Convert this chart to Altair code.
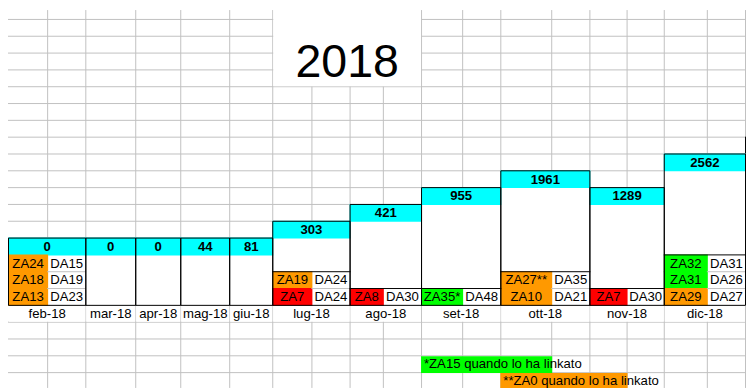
import altair as alt
import pandas as pd

# ---------------- data read from the sheet ----------------
months = ["feb-18", "mar-18", "apr-18", "mag-18", "giu-18", "lug-18",
          "ago-18", "set-18", "ott-18", "nov-18", "dic-18"]
totals = [0, 0, 0, 44, 81, 303, 421, 955, 1961, 1289, 2562]
box_rows = [4, 4, 4, 4, 4, 5, 6, 7, 8, 7, 9]   # height of each hand-drawn bar, in sheet rows

za_month = ["feb-18", "feb-18", "feb-18", "lug-18", "lug-18", "ago-18", "set-18",
            "ott-18", "ott-18", "nov-18", "dic-18", "dic-18", "dic-18"]
za_label = ["ZA24", "ZA18", "ZA13", "ZA19", "ZA7", "ZA8", "ZA35*",
            "ZA27**", "ZA10", "ZA7", "ZA32", "ZA31", "ZA29"]
za_state = ["arancio", "arancio", "arancio", "arancio", "rosso", "rosso", "verde",
            "arancio", "arancio", "rosso", "verde", "verde", "arancio"]
da_label = ["DA15", "DA19", "DA23", "DA24", "DA24", "DA30", "DA48",
            "DA35", "DA21", "DA30", "DA31", "DA26", "DA27"]

title = "2018"
notes = ["*ZA15 quando lo ha linkato", "**ZA0 quando lo ha linkato"]
note_state = ["verde", "arancio"]

state_domain = ["arancio", "rosso", "verde"]
state_range = ["#FF9900", "#FF0000", "#00FF00"]

# ---------------- sheet geometry (layout only) ----------------
COL_W = [40, 39, 51, 46, 50, 44, 40, 39, 34, 39, 42, 39, 52, 39, 38, 38, 44, 39]
ROW_H = 17
edges = [0]
for w in COL_W:
    edges.append(edges[-1] + w)
month_cols = [[0, 1], [2], [3], [4], [5], [6, 7], [8, 9], [10, 11], [12, 13], [14, 15], [16, 17]]
LABEL_ROW = 18
BASE = LABEL_ROW * ROW_H            # bottom of the bars
TITLE_COLS, TITLE_ROWS = (6, 10), 5
NOTE_POS = [(21, 10, 13), (22, 12, 15)]   # row, first col, end col (fill)
GRID = "#C0C0C0"
FONT = "Liberation Sans"
VIEW_W, VIEW_H = 746, 382
X_MAX, Y_MIN, Y_MAX = 754, 8, 390

# ---------------- build tables ----------------
grid = []
for k in range(1, 23):
    y = k * ROW_H + 0.5
    grid.append(dict(x=0, x2=X_MAX, y=y, y2=y))
for e in edges[1:]:
    grid.append(dict(x=e + 0.5, x2=e + 0.5, y=Y_MIN, y2=Y_MAX))
grid = pd.DataFrame(grid)

covers, cyan, boxes, mlabels, tots = [], [], [], [], []
for i, m in enumerate(months):
    cols = month_cols[i]
    x0, x1 = edges[cols[0]], edges[cols[-1] + 1]
    top = BASE - box_rows[i] * ROW_H
    covers.append(dict(x=x0, x2=x1 + 1, y=top, y2=BASE + 1))
    covers.append(dict(x=x0 + 1, x2=x1, y=BASE + 1, y2=BASE + ROW_H))
    cyan.append(dict(x=x0, x2=x1 + 1, y=top, y2=top + ROW_H + 1))
    boxes.append(dict(x=x0 + 0.5, x2=x1 + 0.5, y=top + 0.5, y2=BASE + 0.5))
    mlabels.append(dict(x=(x0 + x1 + 1) / 2, y=BASE + ROW_H - 3.6, text=m))
    tots.append(dict(x=(x0 + x1 + 1) / 2, y=top + ROW_H - 3.6, text=str(totals[i])))
covers.append(dict(x=edges[TITLE_COLS[0]] + 1, x2=edges[TITLE_COLS[1]],
                   y=0, y2=TITLE_ROWS * ROW_H))

cells, das, zas, grey_lines, black_lines = [], [], [], [], []
for i, m in enumerate(months):
    idx = [j for j, mm in enumerate(za_month) if mm == m]
    if not idx:
        continue
    cols = month_cols[i]
    zx0, zx1 = edges[cols[0]], edges[cols[0] + 1]
    dx0, dx1 = edges[cols[-1]], edges[cols[-1] + 1]
    n = len(idx)
    block_top = BASE - n * ROW_H
    for r, j in enumerate(idx):
        yt = block_top + r * ROW_H
        cells.append(dict(x=zx0, x2=zx1 + 1, y=yt, y2=yt + ROW_H + 1, state=za_state[j]))
        zas.append(dict(x=(zx0 + zx1 + 1) / 2, y=yt + ROW_H - 3.6, text=za_label[j]))
        das.append(dict(x=(dx0 + dx1 + 1) / 2, y=yt + ROW_H - 3.6, text=da_label[j]))
        if r > 0:
            grey_lines.append(dict(x=dx0, x2=dx1, y=yt + 0.5, y2=yt + 0.5))
    top = BASE - box_rows[i] * ROW_H
    if block_top > top + ROW_H:
        black_lines.append(dict(x=edges[cols[0]], x2=dx1 + 1, y=block_top + 0.5, y2=block_top + 0.5))
    if m == months[-1]:
        black_lines.append(dict(x=dx1 + 0.5, x2=dx1 + 0.5, y=top - ROW_H, y2=top))

note_text = []
for (r, c0, c1), t, s in zip(NOTE_POS, notes, note_state):
    yt = r * ROW_H
    cells.append(dict(x=edges[c0], x2=edges[c1] + 1, y=yt + 1, y2=yt + ROW_H + 1, state=s))
    note_text.append(dict(x=edges[c0] + 3, y=yt + ROW_H - 3.8, text=t))

title_df = pd.DataFrame([dict(x=(edges[TITLE_COLS[0]] + edges[TITLE_COLS[1]] + 1) / 2,
                              y=75.3, text=title)])

# ---------------- chart ----------------
xs = alt.Scale(domain=[0, X_MAX], nice=False, zero=False)
ys = alt.Scale(domain=[Y_MIN, Y_MAX], reverse=True, nice=False, zero=False)


def seg(df, mark):
    return alt.Chart(pd.DataFrame(df)).mark_rule(**mark).encode(
        x=alt.X("x:Q", scale=xs, axis=None), x2="x2:Q",
        y=alt.Y("y:Q", scale=ys, axis=None), y2="y2:Q")


def box(df, mark, color=None):
    enc = dict(x=alt.X("x:Q", scale=xs, axis=None), x2="x2:Q",
               y=alt.Y("y:Q", scale=ys, axis=None), y2="y2:Q")
    if color is not None:
        enc["color"] = color
    return alt.Chart(pd.DataFrame(df)).mark_rect(**mark).encode(**enc)


def txt(df, **mark):
    return alt.Chart(pd.DataFrame(df)).mark_text(font=FONT, color="black",
                                                 baseline="alphabetic", clip=True, **mark).encode(
        x=alt.X("x:Q", scale=xs, axis=None),
        y=alt.Y("y:Q", scale=ys, axis=None),
        text="text:N")


state_color = alt.Color("state:N", scale=alt.Scale(domain=state_domain, range=state_range), legend=None)

layers = [
    seg(grid, dict(color=GRID, strokeWidth=1, clip=True)),
    box(covers, dict(color="white", clip=True)),
    box(cyan, dict(color="#00FFFF", clip=True)),
    box(cells, dict(opacity=1, clip=True), state_color),
    seg(grey_lines, dict(color=GRID, strokeWidth=1, clip=True)),
    box(boxes, dict(fillOpacity=0, stroke="black", strokeWidth=1, clip=True)),
    seg(black_lines, dict(color="black", strokeWidth=1, clip=True)),
    txt(tots, fontSize=13.3, fontWeight="bold", align="center"),
    txt(zas, fontSize=13.3, align="center"),
    txt(das, fontSize=13.3, align="center"),
    txt(mlabels, fontSize=13.3, align="center"),
    txt(note_text, fontSize=13.3, align="left"),
    txt(title_df, fontSize=47, align="center"),
]

chart = alt.layer(*layers).properties(
    width=VIEW_W, height=VIEW_H, padding=0, background="white"
).configure_view(stroke=None)

chart.save("out.html", embed_options={"renderer": "svg", "actions": False})
